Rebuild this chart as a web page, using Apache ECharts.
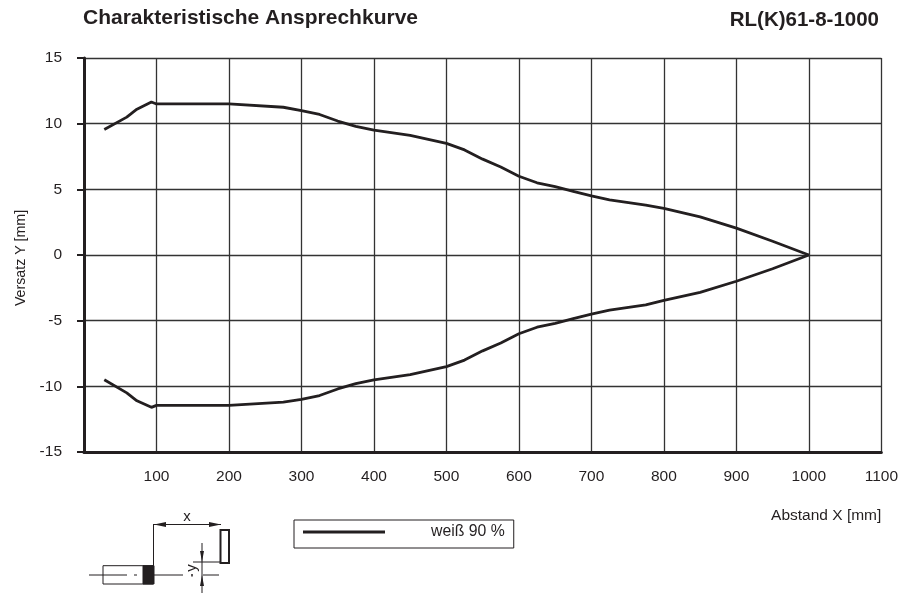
<!DOCTYPE html>
<html><head><meta charset="utf-8">
<style>html,body{margin:0;padding:0;background:#fff}#c{width:901px;height:595px}</style>
<script src="https://cdn.jsdelivr.net/npm/echarts@6/dist/echarts.min.js"></script>
</head><body><div id="c"></div>
<script>
const titleLeft = 'Charakteristische Ansprechkurve';
const titleRight = 'RL(K)61-8-1000';
const xName = 'Abstand X [mm]';
const yName = 'Versatz Y [mm]';
const seriesName = 'weiß 90 %';
const upper = [[28,9.55],[59,10.5],[73,11.1],[93,11.65],[100,11.5],[200,11.5],[275,11.25],[300,11],[325,10.7],[350,10.2],[375,9.8],[400,9.5],[450,9.1],[500,8.5],[525,8],[550,7.3],[575,6.7],[600,6],[625,5.5],[650,5.2],[675,4.85],[700,4.5],[725,4.2],[775,3.8],[800,3.55],[850,2.9],[900,2.05],[950,1.05],[1000,0]];
const lower = [[28,-9.5],[59,-10.5],[73,-11.1],[93,-11.6],[100,-11.45],[200,-11.45],[275,-11.2],[300,-11],[325,-10.7],[350,-10.2],[375,-9.8],[400,-9.5],[450,-9.1],[500,-8.5],[525,-8],[550,-7.3],[575,-6.7],[600,-6],[625,-5.5],[650,-5.2],[675,-4.85],[700,-4.5],[725,-4.2],[775,-3.8],[800,-3.45],[850,-2.85],[900,-2],[950,-1.05],[1000,0]];

const FONT = '"Liberation Sans", Arial, sans-serif';
const INK = '#231f20';
const GRID = '#333333';
const ln = (x1,y1,x2,y2,w=1) => ({type:'line',shape:{x1,y1,x2,y2},style:{stroke:INK,lineWidth:w},silent:true});
const tri = (pts) => ({type:'polygon',shape:{points:pts},style:{fill:INK},silent:true});
const box = (x,y,width,height,w,fill) => ({type:'rect',shape:{x,y,width,height},style:{stroke:INK,lineWidth:w,fill:fill||'none'},silent:true});
const txt = (x,y,text,rotation) => ({type:'text',x,y,rotation:rotation||0,style:{text,font:'15px '+FONT,fill:INK,align:'center',verticalAlign:'middle'},silent:true});

const diagram = [
  ln(89,575,127,575), ln(134,575,137,575), ln(154,575,183,575),
  box(103,565.7,50,18.3,1), box(143,565.7,11,18.3,1,INK),
  ln(153.5,524,153.5,566), ln(153.5,524.5,221,524.5),
  tri([[154,524.5],[166,522],[166,527]]), tri([[221,524.5],[209,522],[209,527]]),
  box(220.5,530,8.5,33,2), ln(193,562,220,562),
  ln(203,575,219,575), ln(202,543,202,593),
  tri([[202,562],[200,551],[204,551]]), tri([[202,575],[200,586],[204,586]]),
  txt(187,517,'x'), txt(191.5,568,'y',Math.PI/2), ln(192,574,192,576.5,1.5)
];

const chart = echarts.init(document.getElementById('c'));
chart.setOption({
  animation:false,
  backgroundColor:'#fff',
  textStyle:{fontFamily:FONT,color:INK},
  title:[
    {text:titleLeft,left:78,top:3,textStyle:{fontFamily:FONT,fontSize:21,fontWeight:'bold',color:INK}},
    {text:titleRight,right:17,top:5,textStyle:{fontFamily:FONT,fontSize:20.5,fontWeight:'bold',color:INK}}
  ],
  grid:{left:84,right:19,top:58,bottom:143,containLabel:false},
  legend:{
    left:294,top:520,padding:[4,9,8,9],
    borderColor:INK,borderWidth:1,borderRadius:0,
    itemWidth:82,itemHeight:14,
    data:[{name:seriesName,icon:'path://M0 0H82V3H0Z'}],
    itemStyle:{color:INK},
    selectedMode:false,
    textStyle:{fontFamily:FONT,fontSize:15.8,lineHeight:14,color:INK,padding:[0,0,0,41]}
  },
  xAxis:{
    type:'value',min:0,max:1100,interval:100,
    name:xName,nameLocation:'end',nameGap:0,
    nameTextStyle:{fontFamily:FONT,fontSize:15.5,color:INK,align:'right',verticalAlign:'top',padding:[56,0,0,0]},
    axisLine:{onZero:false,lineStyle:{color:INK,width:3}},
    axisTick:{show:false},
    axisLabel:{color:INK,fontSize:15.5,margin:17,fontFamily:FONT,formatter:v=>v===0?'':String(v)},
    splitLine:{show:true,lineStyle:{color:GRID,width:1.3}}
  },
  yAxis:{
    type:'value',min:-15,max:15,interval:5,
    name:yName,nameLocation:'middle',nameGap:56,
    nameTextStyle:{fontFamily:FONT,fontSize:14.2,color:INK,padding:[0,6,0,0]},
    axisLine:{onZero:false,lineStyle:{color:INK,width:3}},
    axisTick:{show:true,length:7,lineStyle:{color:INK,width:2}},
    axisLabel:{color:INK,fontSize:15.5,margin:22,fontFamily:FONT},
    splitLine:{show:true,lineStyle:{color:GRID,width:1.3}}
  },
  series:[
    {name:seriesName,type:'line',data:upper,showSymbol:false,lineStyle:{color:INK,width:2.8},itemStyle:{color:INK},silent:true},
    {name:seriesName,type:'line',data:lower,showSymbol:false,lineStyle:{color:INK,width:2.8},itemStyle:{color:INK},silent:true}
  ],
  graphic:[{type:'group',silent:true,children:diagram}]
});
</script></body></html>
